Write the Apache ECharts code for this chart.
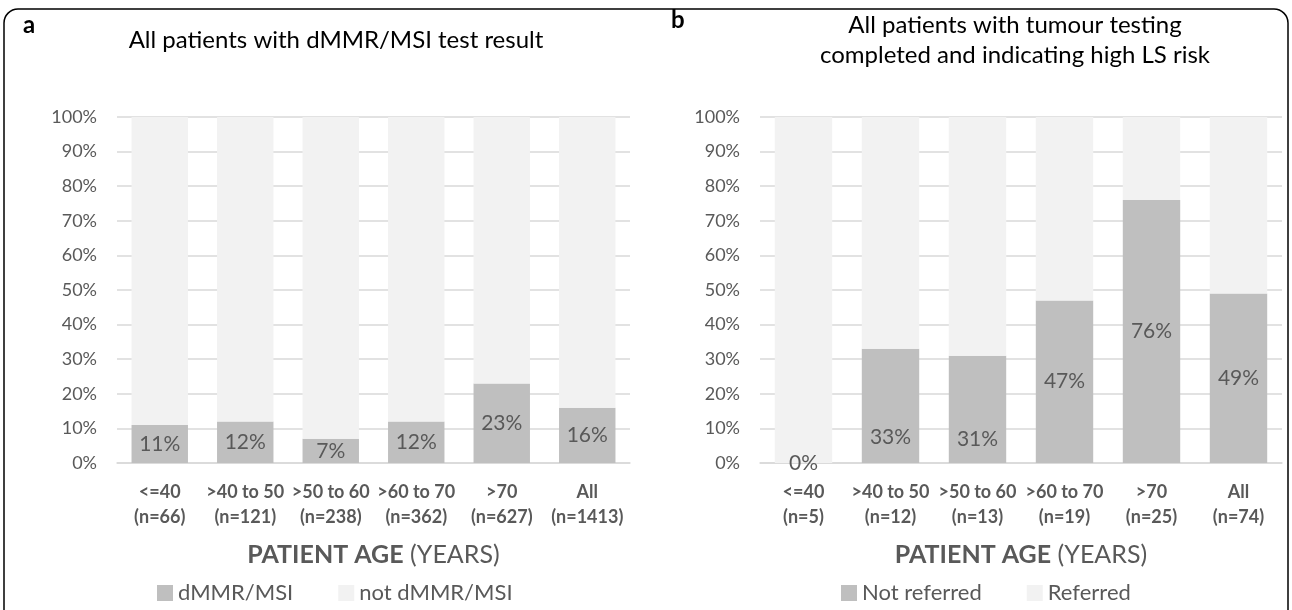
<!DOCTYPE html>
<html>
<head>
<meta charset="utf-8">
<script src="https://cdn.jsdelivr.net/npm/echarts@6/dist/echarts.min.js"></script>
<style>
  html, body { margin: 0; padding: 0; background: #fff; }
  #main { width: 1292px; height: 610px; }
</style>
</head>
<body>
<div id="main"></div>
<script>
var categoriesA = ['<=40\n(n=66)', '>40 to 50\n(n=121)', '>50 to 60\n(n=238)', '>60 to 70\n(n=362)', '>70\n(n=627)', 'All\n(n=1413)'];
var dmmr = [11, 12, 7, 12, 23, 16];
var notDmmr = [89, 88, 93, 88, 77, 84];

var categoriesB = ['<=40\n(n=5)', '>40 to 50\n(n=12)', '>50 to 60\n(n=13)', '>60 to 70\n(n=19)', '>70\n(n=25)', 'All\n(n=74)'];
var notReferred = [0, 33, 31, 47, 76, 49];
var referred = [100, 67, 69, 53, 24, 51];

var yTicks = [0, 10, 20, 30, 40, 50, 60, 70, 80, 90, 100];

var chartDom = document.getElementById('main');
var myChart = echarts.init(chartDom);
var option;

var fontFamily = 'Lato, "Open Sans", sans-serif';
var textColor = '#595959';
var darkGrey = '#bfbfbf';
var lightGrey = '#f2f2f2';

// the two short labels in panel b sit lower in the bar (manual placement in the original)
var labelShiftB = [0, 31, 30, 0, 0, 0];

function yAxisFor(gridIndex) {
  return {
    type: 'value',
    gridIndex: gridIndex,
    min: yTicks[0],
    max: yTicks[yTicks.length - 1],
    interval: yTicks[1] - yTicks[0],
    axisLine: { show: false },
    axisTick: { show: false },
    axisLabel: { formatter: '{value}%', color: textColor, fontSize: 18, fontFamily: fontFamily, margin: 20 },
    splitLine: { lineStyle: { color: '#d9d9d9', width: 1.5 } }
  };
}

function xAxisFor(gridIndex, cats) {
  return {
    type: 'category',
    gridIndex: gridIndex,
    data: cats,
    axisLine: { lineStyle: { color: '#d9d9d9', width: 1.5 } },
    axisTick: { show: false },
    axisLabel: {
      color: textColor, fontSize: 18, fontWeight: 'bold', fontFamily: fontFamily,
      lineHeight: 25, margin: 17, interval: 0
    },
    name: '{b|PATIENT AGE}{n| (YEARS)}',
    nameLocation: 'middle',
    nameGap: 79,
    nameTextStyle: {
      rich: {
        b: { fontSize: 25, fontWeight: 'bold', color: textColor, fontFamily: fontFamily },
        n: { fontSize: 25, color: textColor, fontFamily: fontFamily }
      }
    }
  };
}

function barSeries(name, values, axisIdx, color, showLabel, shifts) {
  var data = values.map(function (v, i) {
    var shift = shifts ? shifts[i] : 0;
    return shift ? { value: v, label: { offset: [0, shift] } } : v;
  });
  return {
    name: name,
    type: 'bar',
    stack: 'stack' + axisIdx,
    xAxisIndex: axisIdx,
    yAxisIndex: axisIdx,
    data: data,
    barCategoryGap: '34%',
    itemStyle: { color: color },
    label: {
      show: showLabel,
      position: 'inside',
      formatter: '{c}%',
      color: textColor,
      fontSize: 21,
      fontFamily: fontFamily
    },
    emphasis: { disabled: true }
  };
}

option = {
  backgroundColor: '#ffffff',
  animation: false,
  textStyle: { fontFamily: fontFamily },
  graphic: [
    {
      type: 'rect',
      shape: { x: 4, y: 9, width: 1284, height: 640, r: 14 },
      style: { fill: 'none', stroke: '#000', lineWidth: 1.5 }
    }
  ],
  title: [
    { text: 'a', left: 18, top: 8, textStyle: { fontSize: 24, fontWeight: 'bold', color: '#000', fontFamily: fontFamily } },
    { text: 'All patients with dMMR/MSI test result', left: 331, textAlign: 'center', top: 23,
      textStyle: { fontSize: 24, fontWeight: 'normal', color: '#000', fontFamily: fontFamily } },
    { text: 'b', left: 666, top: 3, textStyle: { fontSize: 24, fontWeight: 'bold', color: '#000', fontFamily: fontFamily } },
    { text: 'All patients with tumour testing\ncompleted and indicating high LS risk', left: 1010, textAlign: 'center', top: 5,
      textStyle: { fontSize: 24, fontWeight: 'normal', color: '#000', fontFamily: fontFamily, lineHeight: 30 } }
  ],
  legend: [
    {
      data: ['dMMR/MSI', 'not dMMR/MSI'],
      left: 152, top: 577,
      icon: 'rect', itemWidth: 16, itemHeight: 16, itemGap: 45,
      textStyle: { fontSize: 22, color: textColor, fontFamily: fontFamily }
    },
    {
      data: ['Not referred', 'Referred'],
      left: 836, top: 577,
      icon: 'rect', itemWidth: 16, itemHeight: 16, itemGap: 45,
      textStyle: { fontSize: 22, color: textColor, fontFamily: fontFamily }
    }
  ],
  grid: [
    { left: 117, right: 662, top: 117, bottom: 147 },
    { left: 760, right: 10, top: 117, bottom: 147 }
  ],
  xAxis: [xAxisFor(0, categoriesA), xAxisFor(1, categoriesB)],
  yAxis: [yAxisFor(0), yAxisFor(1)],
  series: [
    barSeries('dMMR/MSI', dmmr, 0, darkGrey, true),
    barSeries('not dMMR/MSI', notDmmr, 0, lightGrey, false),
    barSeries('Not referred', notReferred, 1, darkGrey, true, labelShiftB),
    barSeries('Referred', referred, 1, lightGrey, false)
  ]
};

option && myChart.setOption(option);
</script>
</body>
</html>
